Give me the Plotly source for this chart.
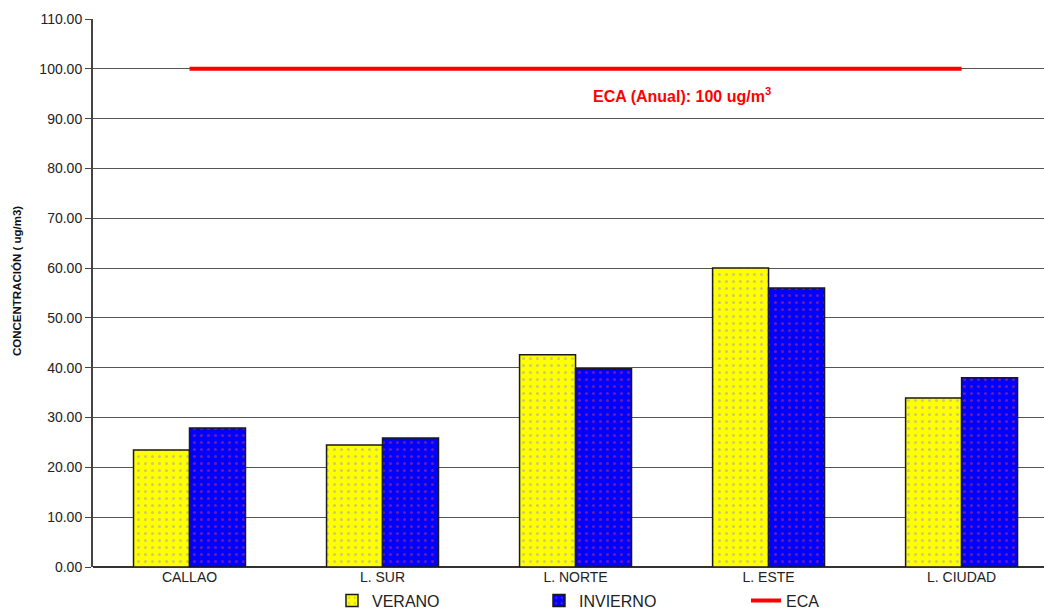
import plotly.graph_objects as go

categories = ["CALLAO", "L. SUR", "L. NORTE", "L. ESTE", "L. CIUDAD"]
verano = [23.5, 24.5, 42.6, 60.0, 33.9]
invierno = [27.9, 25.9, 39.8, 56.0, 38.0]
eca_limit = 100
y_ticks = [0, 10, 20, 30, 40, 50, 60, 70, 80, 90, 100, 110]

font_family = "Liberation Sans, Arial, sans-serif"

fig = go.Figure()

fig.add_trace(go.Bar(
    name="VERANO", x=categories, y=verano,
    marker=dict(color="#FFFF00", line=dict(color="#1a1a1a", width=1.5),
                pattern=dict(shape=".", fgcolor="#9999cc", bgcolor="#FFFF00",
                             size=7, solidity=0.15)),
))
fig.add_trace(go.Bar(
    name="INVIERNO", x=categories, y=invierno,
    marker=dict(color="#0000FF", line=dict(color="#1a1a1a", width=1.5),
                pattern=dict(shape=".", fgcolor="#cc3366", bgcolor="#0000FF",
                             size=7, solidity=0.15)),
))
fig.add_trace(go.Scatter(
    name="ECA", x=[categories[0], categories[-1]], y=[eca_limit, eca_limit],
    mode="lines", line=dict(color="#FF0000", width=4),
))

fig.add_annotation(
    x=2.55, y=94.8, xref="x", yref="y",
    text="<b>ECA (Anual): 100 ug/m<sup>3</sup></b>",
    showarrow=False, font=dict(color="#FF0000", size=16, family=font_family),
)

# geometry of the plotting area, used to place the vertical caption
plot_w = 1044 - 93
plot_h = 611 - 19 - 44

fig.add_annotation(
    x=(17 - 93) / plot_w, y=(567 - 281) / plot_h,
    xref="paper", yref="paper", xanchor="center", yanchor="middle",
    showarrow=False, text="<b>CONCENTRACIÓN ( ug/m3)</b>", textangle=-90,
    font=dict(size=11.5, color="#111111", family=font_family),
)

fig.update_layout(
    width=1044, height=611,
    margin=dict(l=93, r=0, t=19, b=44),
    paper_bgcolor="white", plot_bgcolor="white",
    barmode="group", bargap=0.42, bargroupgap=0,
    font=dict(family=font_family, color="#222222"),
    showlegend=True,
    legend=dict(orientation="h", xref="container", yref="container",
                x=0.318, xanchor="left", y=0.017, yanchor="middle",
                font=dict(size=16, color="#222222"), entrywidth=162,
                itemwidth=30, bgcolor="rgba(0,0,0,0)"),
    xaxis=dict(
        type="category", range=[-0.5, 4.427], automargin=False,
        showgrid=False, showline=False, ticks="",
        tickfont=dict(size=14, color="#222222"),
    ),
    yaxis=dict(
        range=[0, 110], tickvals=y_ticks, automargin=False,
        ticktext=[f"{v:.2f}" for v in y_ticks],
        showgrid=True, gridcolor="#555555", gridwidth=1,
        showline=True, linecolor="#444444", linewidth=2,
        ticks="outside", ticklen=6, tickcolor="#444444",
        tickfont=dict(size=14, color="#222222"),
        zeroline=True, zerolinecolor="#333333", zerolinewidth=1.5,
    ),
)

fig.write_html("out.html")
